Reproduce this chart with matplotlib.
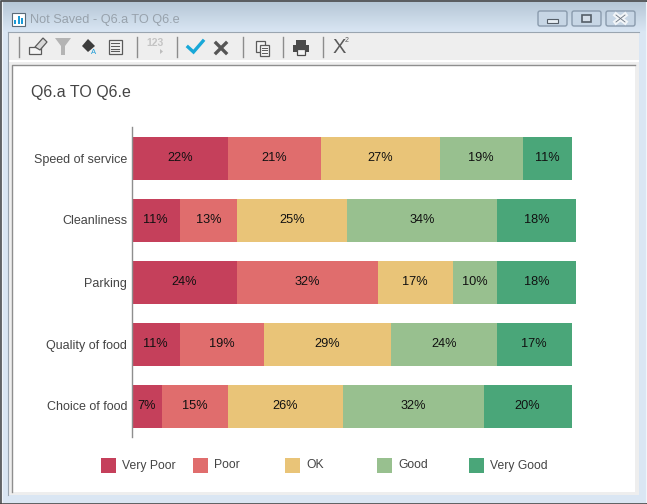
import numpy as np
import matplotlib
matplotlib.use('Agg')
import matplotlib.pyplot as plt
from matplotlib.patches import Rectangle, Polygon, FancyBboxPatch

plt.rcParams['font.family'] = ['Liberation Sans', 'DejaVu Sans']

categories = ['Speed of service', 'Cleanliness', 'Parking', 'Quality of food', 'Choice of food']
very_poor = [22, 11, 24, 11, 7]
poor = [21, 13, 32, 19, 15]
ok = [27, 25, 17, 29, 26]
good = [19, 34, 10, 24, 32]
very_good = [11, 18, 18, 17, 20]

series = [very_poor, poor, ok, good, very_good]
series_names = ['Very Poor', 'Poor', 'OK', 'Good', 'Very Good']
colours = ['#C5405B', '#E06D6D', '#E9C478', '#98C08F', '#4AA679']

W, H = 647, 504
fig = plt.figure(figsize=(W / 100, H / 100), dpi=100)

######################################
# window chrome, drawn in pixel coordinates

bg = fig.add_axes([0, 0, 1, 1])
bg.set_xlim(0, W)
bg.set_ylim(H, 0)
bg.axis('off')


def rect(x0, y0, x1, y1, fc, ec='none', lw=0, z=1):
    bg.add_patch(Rectangle((x0, y0), x1 - x0, y1 - y0, fc=fc, ec=ec, lw=lw, zorder=z))


rect(0, 0, W, H, '#DAE6F3')
grad = np.linspace(0, 1, 32)[:, None]
bg.imshow(grad, extent=(0, W, 32, 0), aspect='auto', zorder=1,
          cmap=matplotlib.colors.LinearSegmentedColormap.from_list('t', ['#B4C5D5', '#D9E6F3']))
bg.set_xlim(0, W)
bg.set_ylim(H, 0)

# outer border
bg.plot([0.5, 0.5, W - 0.5, W - 0.5, 0.5], [H - 0.5, 0.5, 0.5, H - 0.5, H - 0.5], c='#4A4A4A', lw=1.2, zorder=5)
bg.plot([1.5, 1.5], [2, H - 2], c='#F0F5FA', lw=0.8, zorder=5)
bg.plot([W - 1.5, W - 1.5], [2, H - 2], c='#F0F5FA', lw=0.8, zorder=5)

# panel
rect(8, 32, 639, 495, '#EEEEEE', z=2)
bg.plot([8, 8], [32, 495], c='#9AA5B0', lw=0.8, zorder=3)
bg.plot([8, 639], [32, 32], c='#9AA5B0', lw=0.8, zorder=3)
rect(8, 60, 639, 62, '#FFFFFF', z=2)
rect(12, 65, 635, 492, '#FFFFFF', z=2)
bg.plot([11.5, 11.5, 635], [492, 64.5, 64.5], c='#8E8E8E', lw=1, zorder=3)

# caption buttons
for x0, x1 in [(537, 568), (571, 602), (605, 636)]:
    bg.add_patch(FancyBboxPatch((x0 + 1, 11), x1 - x0 - 2, 15, boxstyle='round,pad=0,rounding_size=2',
                                fc='#C7D6E5', ec='#8A9BAD', lw=1, zorder=3))
rect(547, 19, 558, 23, '#E8EEF4', ec='#555E68', lw=0.8, z=4)
rect(582, 15, 591, 22, '#D5DEE8', ec='#555E68', lw=1.2, z=4)
bg.plot([616, 625], [15, 22], c='#F2F5F8', lw=3.5, zorder=4)
bg.plot([616, 625], [22, 15], c='#F2F5F8', lw=3.5, zorder=4)
bg.plot([616, 625], [15, 22], c='#6A7480', lw=0.6, zorder=4)
bg.plot([616, 625], [22, 15], c='#6A7480', lw=0.6, zorder=4)

# title bar icon and text
rect(11.5, 12.5, 25, 26, '#FFFFFF', ec='#5A6A78', lw=0.8, z=4)
for x0, y0 in [(14, 20), (17.5, 16), (21, 18)]:
    rect(x0, y0, x0 + 2, 24, '#1B9AD6', z=5)
bg.text(30, 20, 'Not Saved - Q6.a TO Q6.e', fontsize=9.2, color='#98A2AC', va='center', zorder=5)

# toolbar separators
for x in [18.5, 136.5, 176.5, 242.5, 282.5, 322.5]:
    bg.plot([x, x], [37, 57], c='#8C8C8C', lw=1, zorder=4)

# toolbar icons
ic = '#5A5A5A'
rect(29, 47, 41, 54, '#F5F5F5', ec=ic, lw=0.9, z=4)
bg.add_patch(Polygon([(35, 47), (43, 38), (47, 42), (40, 50)], fc='#D8D8D8', ec=ic, lw=0.9, zorder=5))
bg.add_patch(Polygon([(55, 38), (71, 38), (65, 46), (65, 55), (61, 55), (61, 46)], fc='#B4B4B4', zorder=4))
bg.add_patch(Polygon([(82, 46), (88, 39), (95, 46), (88, 52)], fc='#3C3C3C', zorder=4))
bg.text(93.5, 53, 'A', fontsize=5.5, color='#1B9AD6', ha='center', va='center', zorder=5)
rect(108.5, 39.5, 121.5, 53.5, '#F5F5F5', ec=ic, lw=0.9, z=4)
for y in [43, 46, 48.5, 51]:
    bg.plot([111, 119], [y, y], c=ic, lw=0.8, zorder=5)
bg.text(155, 43.5, '123', fontsize=7.5, fontweight='bold', color='#C4C4C4', ha='center', va='center', zorder=5)
bg.add_patch(Polygon([(160, 49), (163, 51.5), (160, 54)], fc='#BDBDBD', zorder=5))
bg.plot([188, 193.5, 203], [47, 52, 41], c='#18A8D8', lw=2.4, zorder=5, solid_joinstyle='miter')
bg.plot([216, 226], [43, 53], c='#555555', lw=2.4, zorder=5)
bg.plot([216, 226], [53, 43], c='#555555', lw=2.4, zorder=5)
rect(255.5, 40.5, 264.5, 51.5, '#F5F5F5', ec=ic, lw=0.9, z=4)
rect(259.5, 44.5, 268.5, 55.5, '#F5F5F5', ec=ic, lw=0.9, z=5)
for y in [48, 50, 52.5]:
    bg.plot([261.5, 266.5], [y, y], c=ic, lw=0.7, zorder=6)
rect(296, 40, 306, 45, '#4A4A4A', z=4)
rect(293, 45, 309, 52, '#4A4A4A', z=4)
rect(297, 49, 305, 55, '#F5F5F5', ec='#4A4A4A', lw=0.9, z=5)
bg.text(339, 47.5, 'X', fontsize=14.5, color='#5A5A5A', ha='center', va='center', zorder=5)
bg.text(347, 41, '2', fontsize=5, color='#5A5A5A', ha='center', va='center', zorder=5)

# chart title
bg.text(31, 93, 'Q6.a TO Q6.e', fontsize=11.5, color='#444444', va='center', zorder=5)

# legend
for i, (name, c) in enumerate(zip(series_names, colours)):
    x = 101 + 92 * i
    rect(x, 458, x + 15, 473, c, z=4)
    bg.text(x + 21, 465.5, name, fontsize=8.7, color='#444444', va='center', zorder=5)

######################################
# the chart itself

px_per_pct = 4.4
ax_w = 480
ax = fig.add_axes([131.5 / W, 1 - 437 / H, ax_w / W, 310 / H])
ax.patch.set_alpha(0)
ax.set_xlim(0, ax_w / px_per_pct)
ax.set_ylim(4.5, -0.5)

y = np.arange(len(categories))
left = np.zeros(len(categories))
for vals, c in zip(series, colours):
    ax.barh(y, vals, left=left, height=43 / 62, color=c, lw=0)
    for yi, l, v in zip(y, left, vals):
        ax.text(l + v / 2, yi, f'{v}%', ha='center', va='center', fontsize=9.2, color='#111111')
    left = left + vals

for s in ['top', 'right', 'bottom']:
    ax.spines[s].set_visible(False)
ax.spines['left'].set_color('#8E8E8E')
ax.spines['left'].set_linewidth(1)
ax.set_xticks([])
ax.set_yticks(y)
ax.set_yticklabels(categories, fontsize=9, color='#444444')
ax.tick_params(axis='y', length=0, pad=3)

fig.savefig('out.png', dpi=100)
